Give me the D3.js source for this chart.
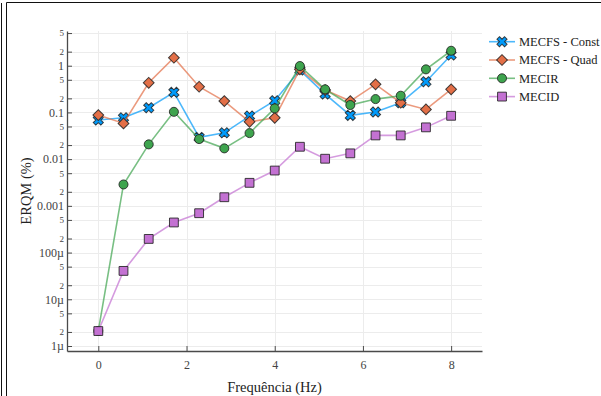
<!DOCTYPE html>
<html>
<head>
<meta charset="utf-8">
<script src="https://cdn.jsdelivr.net/npm/d3@7"></script>
<style>
  body { margin: 0; background: #fff; }
  svg { display: block; }
</style>
</head>
<body>
<svg id="chart" width="601" height="396"></svg>
<script>
// Frequency grid (Hz)
const freqs = [0, 0.571, 1.143, 1.714, 2.286, 2.857, 3.429, 4, 4.571, 5.143, 5.714, 6.286, 6.857, 7.429, 8];

// ERQM (%) per method
const mecfsConst = [0.0686, 0.0767, 0.126, 0.269, 0.0292, 0.0366, 0.0836, 0.178, 0.807, 0.247, 0.0865, 0.102, 0.161, 0.454, 1.69];
const mecfsQuad  = [0.0877, 0.0582, 0.431, 1.48, 0.355, 0.175, 0.063, 0.0767, 0.835, 0.301, 0.175, 0.399, 0.161, 0.116, 0.312];
const mecir      = [2.1e-6, 0.00287, 0.0207, 0.103, 0.0269, 0.0170, 0.0361, 0.122, 0.984, 0.312, 0.144, 0.193, 0.228, 0.835, 2.09];
const mecid      = [2.09e-6, 4.05e-5, 1.96e-4, 4.41e-4, 6.96e-4, 1.53e-3, 3.11e-3, 5.70e-3, 0.0184, 0.0102, 0.0133, 0.0322, 0.0322, 0.0479, 0.0847];

const seriesNames = ["MECFS - Const", "MECFS - Quad", "MECIR", "MECID"];

// Axis ticks
const xTicks = [0, 2, 4, 6, 8];
const yMajorTicks  = [1e-6, 1e-5, 1e-4, 1e-3, 1e-2, 1e-1, 1];
const yMajorLabels = ["1µ", "10µ", "100µ", "0.001", "0.01", "0.1", "1"];
const yMinorMults  = [2, 5];

const svg = d3.select("#chart");
const W = 601, H = 396;
const plot = { left: 67, right: 482, top: 31, bottom: 351 };
const serif = "'Liberation Serif', 'Times New Roman', serif";

const x = d3.scaleLinear().domain([-0.71, 8.70]).range([plot.left, plot.right]);
const y = d3.scaleLog().domain([Math.pow(10, -6.107), Math.pow(10, 0.743)]).range([plot.bottom, plot.top]);

// Outer frame
svg.append("line").attr("x1", 1.5).attr("x2", 1.5).attr("y1", 3).attr("y2", H)
  .attr("stroke", "#111").attr("stroke-width", 1);
svg.append("path").attr("d", `M6.5,${H}V2.5H${W}`)
  .attr("fill", "none").attr("stroke", "#111").attr("stroke-width", 1);

// Tick set for the log axis: decades plus 2x and 5x minors
const yTicks = [];
const yTickLabels = new Map();
yMajorTicks.forEach((v, i) => {
  yTicks.push(v); yTickLabels.set(v, { text: yMajorLabels[i], minor: false });
  yMinorMults.forEach(m => {
    const mv = v * m;
    if (mv <= y.domain()[1]) { yTicks.push(mv); yTickLabels.set(mv, { text: String(m), minor: true }); }
  });
});

// Grid
const grid = svg.append("g").attr("stroke", "#ececec").attr("stroke-width", 1);
grid.selectAll("line.h").data(yTicks).join("line").attr("class", "h")
  .attr("x1", plot.left).attr("x2", plot.right)
  .attr("y1", d => Math.round(y(d)) + 0.5).attr("y2", d => Math.round(y(d)) + 0.5);
grid.selectAll("line.v").data(xTicks).join("line").attr("class", "v")
  .attr("y1", plot.top).attr("y2", plot.bottom)
  .attr("x1", d => Math.round(x(d)) + 0.5).attr("x2", d => Math.round(x(d)) + 0.5);

// Axes
const axisColor = "#4a4a4a";
const yAxis = svg.append("g").attr("transform", `translate(${plot.left},0)`)
  .call(d3.axisLeft(y).tickValues(yTicks).tickSizeInner(-5).tickSizeOuter(0).tickPadding(3)
    .tickFormat(d => yTickLabels.get(d).text));
const xAxis = svg.append("g").attr("transform", `translate(0,${plot.bottom})`)
  .call(d3.axisBottom(x).tickValues(xTicks).tickSizeInner(-5).tickSizeOuter(0).tickPadding(9)
    .tickFormat(d3.format("d")));

[xAxis, yAxis].forEach(g => {
  g.select(".domain").attr("stroke", axisColor).attr("stroke-width", 1.3);
  g.selectAll(".tick line").attr("stroke", axisColor).attr("stroke-width", 1);
  g.selectAll(".tick text").attr("fill", "#444").attr("font-family", serif).attr("font-size", 12);
});
yAxis.selectAll(".tick text")
  .attr("font-size", d => yTickLabels.get(d).minor ? 9 : 12);

// Axis titles
svg.append("text").attr("x", (plot.left + plot.right) / 2).attr("y", 392)
  .attr("text-anchor", "middle").attr("font-family", serif).attr("font-size", 14.5).attr("fill", "#222")
  .text("Frequência (Hz)");
svg.append("text").attr("transform", `translate(31,${(plot.top + plot.bottom) / 2}) rotate(-90)`)
  .attr("text-anchor", "middle").attr("font-family", serif).attr("font-size", 14.5).attr("fill", "#222")
  .text("ERQM (%)");

// Marker shapes
const xcross = d3.symbol().type(d3.symbolCross).size(64)();
const square = d3.symbol().type(d3.symbolSquare).size(78)();
const diamond = d3.symbol().type(d3.symbolSquare).size(58)();
const circle = d3.symbol().type(d3.symbolCircle).size(64)();

const series = [
  { name: seriesNames[0], values: mecfsConst, color: "#009AFA", path: xcross, rot: 45 },
  { name: seriesNames[1], values: mecfsQuad,  color: "#E36F47", path: diamond, rot: 45 },
  { name: seriesNames[2], values: mecir,      color: "#3EA44E", path: circle, rot: 0 },
  { name: seriesNames[3], values: mecid,      color: "#C371D2", path: square, rot: 0 }
];

const line = d3.line().x(d => x(d[0])).y(d => y(d[1]));
const plotArea = svg.append("g");
series.forEach(s => {
  const pts = freqs.map((f, i) => [f, s.values[i]]);
  const g = plotArea.append("g");
  g.append("path").attr("d", line(pts)).attr("fill", "none")
    .attr("stroke", s.color).attr("stroke-opacity", 0.7).attr("stroke-width", 1.6);
  g.selectAll("path.m").data(pts).join("path").attr("class", "m")
    .attr("d", s.path)
    .attr("transform", d => `translate(${x(d[0])},${y(d[1])}) rotate(${s.rot})`)
    .attr("fill", s.color).attr("stroke", "#222").attr("stroke-opacity", 0.85).attr("stroke-width", 1);
});

// Legend
const legend = svg.append("g");
series.forEach((s, i) => {
  const cy = 41.7 + i * 18.3;
  const row = legend.append("g");
  row.append("line").attr("x1", 489).attr("x2", 515).attr("y1", cy).attr("y2", cy)
    .attr("stroke", s.color).attr("stroke-opacity", 0.7).attr("stroke-width", 1.6);
  row.append("path").attr("d", s.path).attr("transform", `translate(502,${cy}) rotate(${s.rot})`)
    .attr("fill", s.color).attr("stroke", "#222").attr("stroke-opacity", 0.85).attr("stroke-width", 1);
  row.append("text").attr("x", 519).attr("y", cy).attr("dy", "0.35em")
    .attr("font-family", serif).attr("font-size", 12.5).attr("fill", "#222").text(s.name);
});
</script>
</body>
</html>
